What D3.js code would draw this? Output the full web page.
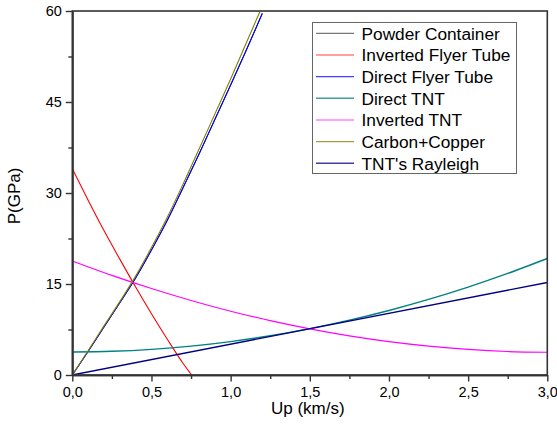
<!DOCTYPE html>
<html>
<head>
<meta charset="utf-8">
<script src="https://cdn.jsdelivr.net/npm/d3@7"></script>
<style>
  html, body { margin: 0; padding: 0; background: #fff; }
  svg { display: block; font-family: "Liberation Sans", Arial, sans-serif; }
</style>
</head>
<body>
<svg id="chart" width="557" height="433"></svg>
<script>
// ---- data ----
const seriesNames = ["Powder Container", "Inverted Flyer Tube", "Direct Flyer Tube", "Direct TNT", "Inverted TNT", "Carbon+Copper", "TNT's Rayleigh"];
const seriesColors = ["#000000", "#ff0000", "#0000ff", "#008080", "#ff00ff", "#808000", "#000080"];

const upSteep = [0, 0.1, 0.2, 0.3, 0.4, 0.5, 0.6, 0.7, 0.8, 0.9, 1.0, 1.1, 1.2];
const powderContainer = [0, 3.9, 7.9, 11.9, 16.0, 20.6, 25.5, 30.9, 36.4, 42.1, 47.8, 53.6, 59.6];
const directFlyerTube = [0, 3.9, 7.9, 11.9, 16.0, 20.6, 25.5, 30.9, 36.4, 42.1, 47.8, 53.6, 59.6];
const carbonCopper = [0, 4.0, 8.1, 12.1, 16.3, 21.0, 26.0, 31.5, 37.2, 43.0, 48.8, 54.8, 60.8];

const upRed = [0, 0.1, 0.2, 0.3, 0.4, 0.5, 0.6, 0.7, 0.754];
const invertedFlyerTube = [34.0, 28.8, 23.8, 19.1, 14.5, 10.1, 5.9, 1.9, 0];

const upTNT = [0, 0.25, 0.5, 0.75, 1.0, 1.25, 1.5, 1.75, 2.0, 2.25, 2.5, 2.75, 3.0];
const directTNT = [3.8, 3.91, 4.23, 4.76, 5.51, 6.47, 7.65, 9.04, 10.64, 12.46, 14.49, 16.74, 19.2];
const invertedTNT = [18.8, 16.42, 14.25, 12.28, 10.51, 8.95, 7.6, 6.44, 5.49, 4.75, 4.21, 3.87, 3.75];

const upRayleigh = [0, 3.0];
const tntRayleigh = [0, 15.25];

const xTicks = [0, 0.5, 1.0, 1.5, 2.0, 2.5, 3.0];
const xTickLabels = ["0,0", "0,5", "1,0", "1,5", "2,0", "2,5", "3,0"];
const yTicks = [0, 15, 30, 45, 60];
const yTickLabels = ["0", "15", "30", "45", "60"];
const xTitle = "Up (km/s)";
const yTitle = "P(GPa)";

// ---- layout ----
const W = 557, H = 433;
const m = { left: 72.3, top: 11, right: 9.7, bottom: 58 };
const pw = W - m.left - m.right, ph = H - m.top - m.bottom;

const svg = d3.select("#chart");
const x = d3.scaleLinear().domain([0, 3]).range([m.left, m.left + pw]);
const y = d3.scaleLinear().domain([0, 60]).range([m.top + ph, m.top]);

svg.append("defs").append("clipPath").attr("id", "clip")
  .append("rect").attr("x", m.left).attr("y", m.top).attr("width", pw).attr("height", ph);

const series = [
  { u: upSteep, p: powderContainer, w: 0.9 },
  { u: upRed, p: invertedFlyerTube, w: 1.1 },
  { u: upSteep, p: directFlyerTube, w: 1.1 },
  { u: upTNT, p: directTNT, w: 1.4 },
  { u: upTNT, p: invertedTNT, w: 1.2 },
  { u: upSteep, p: carbonCopper, w: 1.1 },
  { u: upRayleigh, p: tntRayleigh, w: 1.4 }
];

const line = d3.line().x(d => x(d[0])).y(d => y(d[1])).curve(d3.curveMonotoneX);
const g = svg.append("g").attr("clip-path", "url(#clip)");
series.forEach((s, i) => {
  g.append("path")
    .datum(s.u.map((u, k) => [u, s.p[k]]))
    .attr("d", line)
    .attr("fill", "none")
    .attr("stroke", seriesColors[i])
    .attr("stroke-width", s.w);
});

// frame
svg.append("rect").attr("x", m.left).attr("y", m.top).attr("width", pw).attr("height", ph)
  .attr("fill", "none").attr("stroke", "#333").attr("stroke-width", 1.6);

// axes
const xMinor = d3.range(0, 3.01, 0.25).filter(v => Math.abs(v * 2 - Math.round(v * 2)) > 1e-6);
const yMinor = [7.5, 22.5, 37.5, 52.5];

const xAxis = d3.axisBottom(x).tickValues(xTicks).tickFormat((d, i) => xTickLabels[i]).tickSize(6.5).tickSizeOuter(0).tickPadding(5);
const xAx = svg.append("g").attr("transform", `translate(0,${m.top + ph})`).call(xAxis);
const xAxMinor = svg.append("g").attr("transform", `translate(0,${m.top + ph})`)
  .call(d3.axisBottom(x).tickValues(xMinor).tickFormat("").tickSize(4).tickSizeOuter(0));

const yAxis = d3.axisLeft(y).tickValues(yTicks).tickFormat((d, i) => yTickLabels[i]).tickSize(6.5).tickSizeOuter(0).tickPadding(4);
const yAx = svg.append("g").attr("transform", `translate(${m.left},0)`).call(yAxis);
const yAxMinor = svg.append("g").attr("transform", `translate(${m.left},0)`)
  .call(d3.axisLeft(y).tickValues(yMinor).tickFormat("").tickSize(4).tickSizeOuter(0));

[xAx, yAx, xAxMinor, yAxMinor].forEach(a => {
  a.select(".domain").attr("stroke", "#333").attr("stroke-width", 1.6);
  a.selectAll(".tick line").attr("stroke", "#333").attr("stroke-width", 1.4);
  a.selectAll(".tick text").attr("fill", "#000").style("font-size", "14.5px")
    .style("font-family", "'Liberation Sans', Arial, sans-serif");
});

// titles
svg.append("text").attr("x", x(1.5) - 2).attr("y", 414).attr("text-anchor", "middle")
  .style("font-size", "17px").attr("fill", "#000").text(xTitle);
svg.append("text").attr("transform", `translate(20,${m.top + ph / 2 + 3}) rotate(-90)`)
  .attr("text-anchor", "middle").style("font-size", "17px").attr("fill", "#000").text(yTitle);

// legend
const lg = svg.append("g");
lg.append("rect").attr("x", 312.5).attr("y", 22.5).attr("width", 204).attr("height", 151)
  .attr("fill", "#fff").attr("stroke", "#666").attr("stroke-width", 1);
seriesNames.forEach((name, i) => {
  const ry = 33.3 + i * 21.67;
  lg.append("line").attr("x1", 316).attr("x2", 354).attr("y1", ry).attr("y2", ry)
    .attr("stroke", seriesColors[i]).attr("stroke-width", series[i].w)
    .attr("stroke-opacity", 0.75);
  lg.append("text").attr("x", 361.5).attr("y", ry + 6.3)
    .style("font-size", "17.3px").attr("fill", "#000").text(name);
});
</script>
</body>
</html>
